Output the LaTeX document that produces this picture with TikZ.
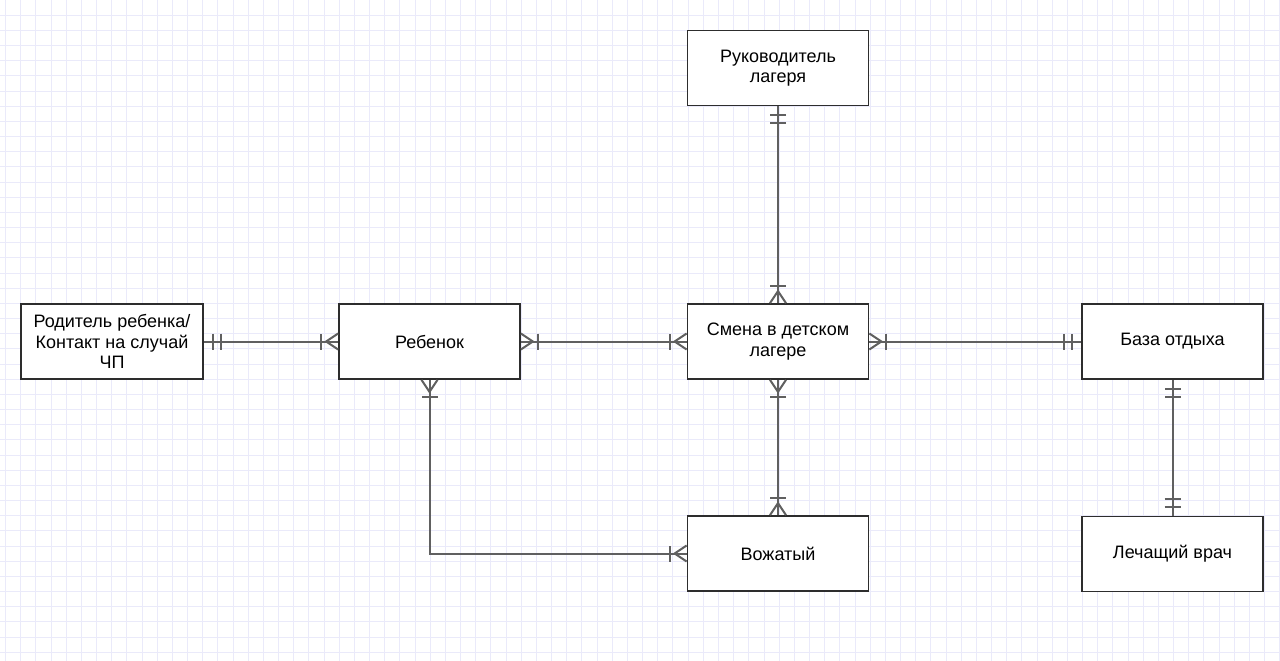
\documentclass[tikz,border=0pt]{standalone}
\usepackage{fontspec}
\setmainfont{Liberation Sans}
\definecolor{gridc}{RGB}{234,234,250}
\definecolor{linec}{RGB}{96,96,96}
\definecolor{boxc}{RGB}{45,45,45}
\tikzset{
  ent/.style={draw=boxc, line width=1.8pt, fill=white, minimum width=181pt, minimum height=75pt,
    inner sep=0pt, align=center, font=\fontsize{18}{20.5}\selectfont, text=black},
  rel/.style={draw=linec, line width=2pt},
  onemany/.pic={\draw[rel, line join=miter] (0,8) -- (12,0) -- (0,-8); \draw[rel] (17,-8) -- (17,8);},
  oneone/.pic={\draw[rel] (9,-8) -- (9,8); \draw[rel] (17,-8) -- (17,8);}
}
\begin{document}
\begin{tikzpicture}[x=1pt,y=-1pt]
\useasboundingbox (0,0) rectangle (1280,661);
\fill[white] (0,0) rectangle (1280,661);
\foreach \i in {0,...,84} {\draw[gridc, line width=1pt] ({5.5+15.17*\i},0) -- ({5.5+15.17*\i},661);}
\foreach \j in {0,...,43} {\draw[gridc, line width=1pt] (0,{15.17*\j}) -- (1280,{15.17*\j});}

\node[ent] (ruk) at (778,68) {Руководитель\\лагеря};
\node[ent, minimum width=182pt] (rod) at (112,341.5) {Родитель ребенка/\\Контакт на случай\\ЧП};
\node[ent] (reb) at (429.5,341.5) {Ребенок};
\node[ent] (sme) at (778,341.5) {Смена в детском\\лагере};
\node[ent] (baz) at (1172.5,341.5) {База отдыха};
\node[ent] (vozh) at (778,553.5) {Вожатый};
\node[ent] (vrach) at (1172.5,554) {Лечащий врач};

\draw[rel] (rod.east) -- (reb.west);
\draw[rel] (reb.east) -- (sme.west);
\draw[rel] (sme.east) -- (baz.west);
\draw[rel] (ruk.south) -- (sme.north);
\draw[rel] (sme.south) -- (vozh.north);
\draw[rel] (reb.south) |- (vozh.west);
\draw[rel] (baz.south) -- (vrach.north);

\pic[rotate=0] at (rod.east) {oneone};
\pic[rotate=180] at (reb.west) {onemany};
\pic[rotate=0] at (reb.east) {onemany};
\pic[rotate=180] at (sme.west) {onemany};
\pic[rotate=0] at (sme.east) {onemany};
\pic[rotate=180] at (baz.west) {oneone};
\pic[rotate=-90] at (ruk.south) {oneone};
\pic[rotate=90] at (sme.north) {onemany};
\pic[rotate=-90] at (sme.south) {onemany};
\pic[rotate=90] at (vozh.north) {onemany};
\pic[rotate=-90] at (reb.south) {onemany};
\pic[rotate=180] at (vozh.west) {onemany};
\pic[rotate=-90] at (baz.south) {oneone};
\pic[rotate=90] at (vrach.north) {oneone};
\end{tikzpicture}
\end{document}
